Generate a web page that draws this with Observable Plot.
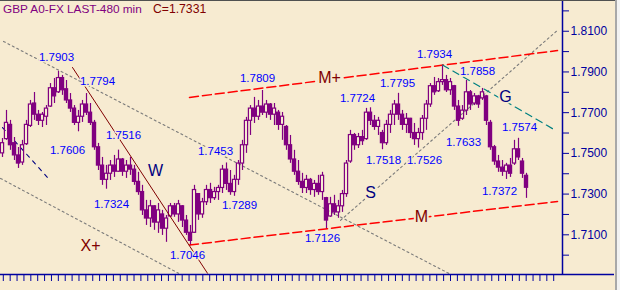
<!DOCTYPE html>
<html>
<head>
<meta charset="utf-8">
<script src="https://cdn.jsdelivr.net/npm/d3@7"></script>
<script src="https://cdn.jsdelivr.net/npm/@observablehq/plot@0.6"></script>
<style>
  html, body { margin: 0; padding: 0; background: #F7EBD1; }
  #wrap { position: relative; width: 620px; height: 290px; overflow: hidden; background: #F7EBD1; }
  #chart { position: absolute; left: 0; top: 0; }
  .ttl { position: absolute; top: 1px; font-family: "Liberation Sans", Arial, sans-serif; font-size: 11.8px; white-space: pre; line-height: 16px; }
  #topline { position: absolute; left: 0; top: 0; width: 616px; height: 1px; background: #505050; }
  #rline { position: absolute; left: 615px; top: 0; width: 2px; height: 290px; background: #A8A8A8; }
  #rpad { position: absolute; left: 617px; top: 0; width: 3px; height: 290px; background: #F2F2F2; }
</style>
</head>
<body>
<div id="wrap">
  <div id="chart"></div>
  <div class="ttl" style="left:3px;color:#800080">GBP A0-FX LAST-480 min</div>
  <div class="ttl" style="left:153px;color:#800000;font-size:12.2px">C=1.7331</div>
  <div id="topline"></div>
  <div id="rline"></div>
  <div id="rpad"></div>
</div>
<script>
// ---- OHLC data (480-minute bars, GBP) ----
const open = [
1.7500,1.7570,1.7640,1.7550,1.7490,1.7455,1.7545,1.7635,1.7745,1.7690,
1.7660,1.7680,1.7730,1.7820,1.7800,1.7870,1.7815,1.7760,1.7720,1.7650,
1.7680,1.7740,1.7700,1.7650,1.7530,1.7440,1.7370,1.7400,1.7440,1.7410,
1.7470,1.7410,1.7440,1.7420,1.7360,1.7310,1.7220,1.7180,1.7240,1.7160,
1.7200,1.7130,1.7190,1.7240,1.7200,1.7240,1.7170,1.7110,1.7110,1.7300,
1.7200,1.7260,1.7320,1.7280,1.7310,1.7330,1.7420,1.7350,1.7310,1.7370,
1.7450,1.7540,1.7660,1.7720,1.7680,1.7730,1.7700,1.7740,1.7690,1.7700,
1.7640,1.7630,1.7540,1.7470,1.7410,1.7360,1.7330,1.7370,1.7320,1.7350,
1.7310,1.7280,1.7190,1.7250,1.7210,1.7240,1.7300,1.7460,1.7590,1.7540,
1.7580,1.7570,1.7700,1.7660,1.7630,1.7600,1.7550,1.7640,1.7690,1.7740,
1.7690,1.7640,1.7670,1.7600,1.7570,1.7600,1.7670,1.7740,1.7830,1.7805,
1.7850,1.7860,1.7810,1.7830,1.7730,1.7670,1.7710,1.7800,1.7745,1.7780,
1.7770,1.7780,1.7650,1.7530,1.7460,1.7430,1.7410,1.7440,1.7450,1.7520,
1.7460,1.7390];
const high = [
1.7573,1.7711,1.7662,1.7578,1.7529,1.7564,1.7662,1.7760,1.7799,1.7711,
1.7701,1.7735,1.7843,1.7868,1.7903,1.7883,1.7858,1.7794,1.7735,1.7711,
1.7760,1.7794,1.7745,1.7662,1.7549,1.7480,1.7441,1.7465,1.7490,1.7516,
1.7475,1.7465,1.7480,1.7441,1.7407,1.7343,1.7269,1.7269,1.7244,1.7254,
1.7220,1.7195,1.7254,1.7254,1.7269,1.7244,1.7195,1.7146,1.7343,1.7303,
1.7279,1.7343,1.7353,1.7333,1.7343,1.7441,1.7453,1.7416,1.7392,1.7465,
1.7564,1.7677,1.7735,1.7775,1.7760,1.7809,1.7760,1.7745,1.7745,1.7711,
1.7701,1.7637,1.7588,1.7515,1.7465,1.7402,1.7392,1.7377,1.7367,1.7392,
1.7407,1.7284,1.7284,1.7294,1.7269,1.7318,1.7465,1.7613,1.7598,1.7598,
1.7613,1.7721,1.7724,1.7686,1.7677,1.7613,1.7662,1.7711,1.7760,1.7795,
1.7711,1.7696,1.7672,1.7647,1.7623,1.7686,1.7760,1.7843,1.7873,1.7868,
1.7934,1.7883,1.7868,1.7834,1.7760,1.7735,1.7858,1.7809,1.7794,1.7785,
1.7819,1.7785,1.7662,1.7539,1.7490,1.7465,1.7451,1.7475,1.7564,1.7574,
1.7475,1.7402];
const low = [
1.7480,1.7564,1.7515,1.7465,1.7426,1.7441,1.7539,1.7627,1.7662,1.7637,
1.7627,1.7637,1.7726,1.7745,1.7794,1.7785,1.7745,1.7701,1.7637,1.7606,
1.7652,1.7686,1.7637,1.7515,1.7416,1.7343,1.7324,1.7367,1.7382,1.7407,
1.7387,1.7377,1.7392,1.7343,1.7294,1.7195,1.7146,1.7136,1.7122,1.7107,
1.7097,1.7063,1.7186,1.7186,1.7161,1.7136,1.7097,1.7046,1.7107,1.7171,
1.7181,1.7244,1.7254,1.7269,1.7269,1.7303,1.7318,1.7294,1.7289,1.7343,
1.7416,1.7500,1.7588,1.7647,1.7662,1.7686,1.7672,1.7662,1.7637,1.7613,
1.7564,1.7515,1.7451,1.7392,1.7343,1.7303,1.7303,1.7294,1.7284,1.7294,
1.7269,1.7126,1.7186,1.7195,1.7181,1.7210,1.7284,1.7451,1.7515,1.7524,
1.7539,1.7564,1.7637,1.7613,1.7588,1.7518,1.7539,1.7598,1.7637,1.7662,
1.7613,1.7598,1.7573,1.7539,1.7526,1.7564,1.7613,1.7726,1.7785,1.7799,
1.7834,1.7799,1.7785,1.7711,1.7633,1.7662,1.7686,1.7711,1.7735,1.7721,
1.7760,1.7637,1.7515,1.7441,1.7407,1.7387,1.7372,1.7382,1.7441,1.7465,
1.7377,1.7279];
const close = [
1.7550,1.7650,1.7540,1.7490,1.7450,1.7540,1.7640,1.7740,1.7690,1.7660,
1.7690,1.7720,1.7820,1.7780,1.7870,1.7810,1.7760,1.7720,1.7650,1.7680,
1.7740,1.7700,1.7650,1.7530,1.7440,1.7370,1.7400,1.7440,1.7410,1.7470,
1.7410,1.7440,1.7420,1.7360,1.7310,1.7220,1.7180,1.7240,1.7160,1.7220,
1.7130,1.7180,1.7240,1.7200,1.7250,1.7170,1.7110,1.7070,1.7320,1.7200,
1.7260,1.7320,1.7280,1.7310,1.7330,1.7420,1.7350,1.7310,1.7370,1.7450,
1.7540,1.7660,1.7720,1.7680,1.7730,1.7700,1.7740,1.7690,1.7720,1.7640,
1.7680,1.7540,1.7470,1.7410,1.7360,1.7330,1.7370,1.7320,1.7350,1.7310,
1.7390,1.7170,1.7250,1.7210,1.7240,1.7300,1.7450,1.7590,1.7540,1.7580,
1.7560,1.7700,1.7660,1.7630,1.7660,1.7550,1.7640,1.7690,1.7740,1.7690,
1.7640,1.7670,1.7600,1.7570,1.7600,1.7670,1.7740,1.7830,1.7800,1.7850,
1.7860,1.7810,1.7850,1.7730,1.7660,1.7710,1.7800,1.7740,1.7780,1.7740,
1.7800,1.7660,1.7530,1.7460,1.7430,1.7410,1.7440,1.7400,1.7520,1.7480,
1.7400,1.7331];

// ---- pivot labels (bar index, price) ----
const pivotIdx = [14, 21, 29, 19, 26, 47, 58, 56, 65, 81, 92, 95, 99, 104, 110, 114, 116, 129, 126];
const pivotVal = [1.7903,1.7794,1.7516,1.7606,1.7324,1.7046,1.7289,1.7453,1.7809,1.7126,
                  1.7724,1.7518,1.7795,1.7526,1.7934,1.7633,1.7858,1.7574,1.7372];

// ---- wave / channel letters (bar index, price) ----
const letters   = ["M+", "M", "X+", "W", "S", "G"];
const letterIdx = [81.75, 104.75, 22, 38.25, 92, 125.75];
const letterVal = [1.7873, 1.7190, 1.7048, 1.7416, 1.7308, 1.7780];

// ---- trend lines: [bar index, price] end points ----
const lineMplus = [[46.75, 1.7775], [138.75, 1.8005]];
const lineM     = [[46.75, 1.7050], [138.75, 1.7264]];
const lineGrey1 = [[0.25, 1.8050], [112, 1.6906]];
const lineGrey2 = [[-0.5, 1.7377], [44, 1.6911]];
const lineGreyS = [[84.5, 1.7171], [139, 1.8109]];
const lineG     = [[110, 1.7934], [138.25, 1.7613]];
const lineW     = [[17.5, 1.7922], [51.25, 1.6911]];
const lineBlue  = [[0, 1.7627], [11.25, 1.7382]];

// ---- axis ticks ----
const yTicks  = [1.70,1.71,1.72,1.73,1.74,1.75,1.76,1.77,1.78,1.79,1.80,1.81,1.82];
const yLabels = [1.71,1.73,1.75,1.77,1.79,1.81];

// ---------------- drawing ----------------
const BG = "#F7EBD1", PURPLE = "#800080", NAVY = "#0000A0", DARKRED = "#800000";
const FONT = "'Liberation Sans', Arial, sans-serif";
const X0 = -0.5, X1 = 140, Y0 = 1.6905, Y1 = 1.8251;

const bars = open.map((o, i) => ({
  i, o, h: high[i], l: low[i], c: close[i],
  top: Math.max(o, close[i]), bot: Math.min(o, close[i]), down: close[i] < o
}));
const pivots = pivotIdx.map((i, k) => ({i, v: pivotVal[k], t: pivotVal[k].toFixed(4)}));
// label placement offsets (px) relative to each pivot
const labelDx = [-2, 11, 5, -11, 5, -3, 5, -11, -5, -4, -13, 1, -1, 6, -8, 5, 11, 1, -7];
const labelDy = [-14, -12, -15, 19, 15, 10, 9, -12, -12, 9, -9, 11, -10, 12, -11, 16, -9, -11, 12];
const lets = letters.map((t, k) => ({t, i: letterIdx[k], v: letterVal[k], red: t.startsWith("M") || t.startsWith("X")}));
const xTicks = d3.range(0.2, 138, 1.72);

const seg = (pts, opts) => Plot.line(pts, {x: d => d[0], y: d => d[1], ...opts});

const plot = Plot.plot({
  width: 620, height: 290,
  marginLeft: 0, marginRight: 58, marginTop: 0, marginBottom: 16,
  style: {background: BG, fontFamily: FONT, fontSize: "12px", color: NAVY, overflow: "visible"},
  x: {domain: [X0, X1], axis: "bottom", ticks: xTicks, tickFormat: () => "", tickSize: 7, label: null},
  y: {domain: [Y0, Y1], axis: "right", ticks: yTicks, tickSize: 6, tickPadding: 2, label: null,
      tickFormat: v => yLabels.some(l => Math.abs(l - v) < 1e-6) ? v.toFixed(4) : ""},
  marks: [
    // grey dotted trend lines
    seg(lineGrey1, {stroke: "#7A7A7A", strokeWidth: 1.1, strokeDasharray: "2,3"}),
    seg(lineGrey2, {stroke: "#7A7A7A", strokeWidth: 1.1, strokeDasharray: "2,3"}),
    seg(lineGreyS, {stroke: "#7A7A7A", strokeWidth: 1.1, strokeDasharray: "2,3"}),
    seg(lineBlue,  {stroke: "#000080", strokeWidth: 1.1, strokeDasharray: "4,5"}),
    // candles: wicks
    Plot.ruleX(bars, {x: "i", y1: "h", y2: "top", stroke: PURPLE, strokeWidth: 1.2}),
    Plot.ruleX(bars, {x: "i", y1: "bot", y2: "l", stroke: PURPLE, strokeWidth: 1.2}),
    // candles: bodies
    Plot.rect(bars, {x1: d => d.i - 0.4, x2: d => d.i + 0.4, y1: "bot", y2: "top",
      stroke: PURPLE, strokeWidth: 1.2, fill: d => d.down ? PURPLE : "none"}),
    // channel & wave lines
    seg(lineMplus, {stroke: "#FF0000", strokeWidth: 1.5, strokeDasharray: "9,4"}),
    seg(lineM,     {stroke: "#FF0000", strokeWidth: 1.5, strokeDasharray: "9,4"}),
    seg(lineG,     {stroke: "#008080", strokeWidth: 1.2, strokeDasharray: "7,5"}),
    seg(lineW,     {stroke: DARKRED, strokeWidth: 1}),
    // axis lines
    Plot.ruleX([X1], {stroke: NAVY, strokeWidth: 1.5}),
    Plot.ruleY([Y0], {x1: X0, x2: 153, stroke: NAVY, strokeWidth: 1.5}),
    // pivot labels, each with its own placement offset
    ...pivots.map((p, k) => Plot.text([p], {x: "i", y: "v", text: "t", dx: labelDx[k], dy: labelDy[k],
      fill: "#0000FF", fontSize: 11.5, fontFamily: FONT, stroke: BG, strokeWidth: 3, paintOrder: "stroke"})),
    // letters
    Plot.text(lets, {x: "i", y: "v", text: "t", fill: d => d.red ? DARKRED : "#000080",
      fontSize: 16, fontFamily: FONT, stroke: BG, strokeWidth: 4, paintOrder: "stroke"})
  ]
});

document.getElementById("chart").appendChild(plot);
</script>
</body>
</html>
